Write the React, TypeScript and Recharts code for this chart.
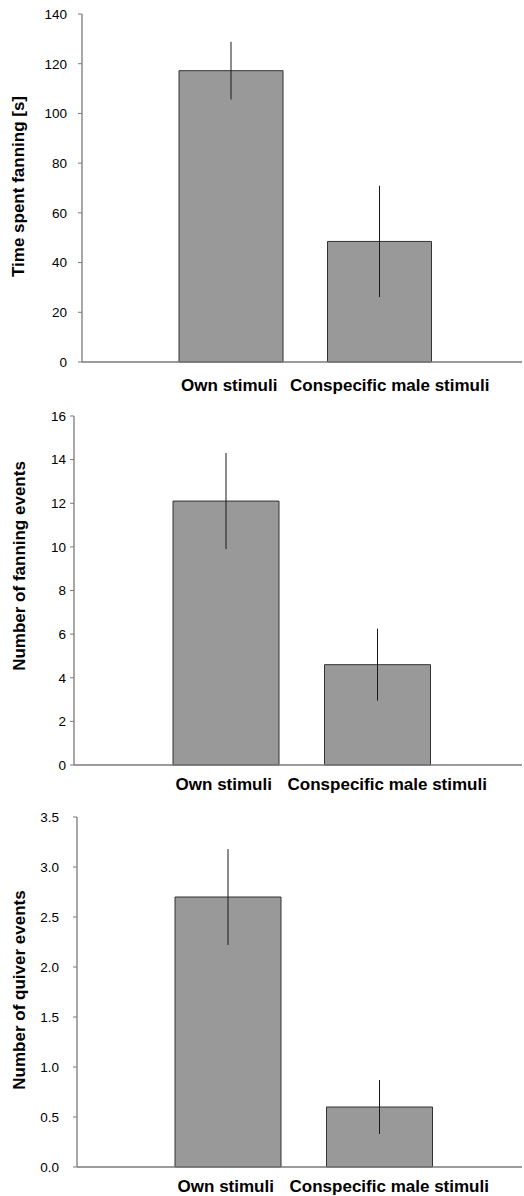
import { BarChart, Bar, XAxis, YAxis, ErrorBar } from "recharts";

const categories = ["Own stimuli", "Conspecific male stimuli"];

// panel 1: time spent fanning
const fanTime = [117.2, 48.5];
const fanTimeSe = [11.6, 22.4];
const fanTimeTicks = [0, 20, 40, 60, 80, 100, 120, 140];

// panel 2: fanning events
const fanEvents = [12.1, 4.6];
const fanEventsSe = [2.2, 1.65];
const fanEventsTicks = [0, 2, 4, 6, 8, 10, 12, 14, 16];

// panel 3: quiver events
const quiverEvents = [2.7, 0.6];
const quiverEventsSe = [0.48, 0.27];
const quiverTicks = [0, 0.5, 1.0, 1.5, 2.0, 2.5, 3.0, 3.5];

const AXIS = "#7a7a7a";
const FONT = "'Liberation Sans', Arial, sans-serif";

type PanelProps = {
  label: string;
  means: number[];
  se: number[];
  ticks: number[];
  decimals: number;
  top: number;
  height: number;
  left: number;
  plotTop: number;
  plotBottom: number;
  padL: number;
  padR: number;
  barSize: number;
  tickGap: number;
  xLabelGap: number;
  labelX: number;
  labelShift: number;
};

function CatTick(props: any) {
  const { x, y, payload, index } = props;
  return (
    <text
      x={x + (index === 1 ? 10 : -2)}
      y={y}
      dy="0.71em"
      textAnchor="middle"
      fontSize={17}
      fontWeight="bold"
      fill="#000"
    >
      {payload.value}
    </text>
  );
}

function Panel(p: PanelProps) {
  const data = categories.map((name, i) => ({ name, mean: p.means[i], se: p.se[i] }));
  return (
    <div style={{ position: "absolute", left: 0, top: p.top }}>
      <BarChart
        width={524}
        height={p.height}
        data={data}
        margin={{ top: p.plotTop, right: 2, bottom: 0, left: 0 }}
      >
        <XAxis
          dataKey="name"
          type="category"
          height={p.height - p.plotBottom}
          padding={{ left: p.padL, right: p.padR }}
          axisLine={{ stroke: AXIS, strokeWidth: 1.3 }}
          tickLine={false}
          tickSize={0}
          tickMargin={p.xLabelGap}
          interval={0}
          tick={<CatTick />}
        />
        <YAxis
          type="number"
          width={p.left}
          domain={[0, p.ticks[p.ticks.length - 1]]}
          ticks={p.ticks}
          interval={0}
          tickSize={4}
          tickMargin={p.tickGap}
          axisLine={{ stroke: AXIS, strokeWidth: 1.3 }}
          tickLine={{ stroke: AXIS }}
          tick={{ fill: "#000", fontSize: 13.5 }}
          tickFormatter={(v: number) => v.toFixed(p.decimals)}
          label={{
            content: ({ viewBox }: any) => {
              const cy = viewBox.y + viewBox.height / 2 + p.labelShift;
              return (
                <text
                  x={p.labelX}
                  y={cy}
                  transform={`rotate(-90, ${p.labelX}, ${cy})`}
                  textAnchor="middle"
                  fontSize={17}
                  fontWeight="bold"
                  fill="#000"
                >
                  {p.label}
                </text>
              );
            },
          }}
        />
        <Bar
          dataKey="mean"
          barSize={p.barSize}
          fill="#999999"
          stroke="#333"
          strokeWidth={1}
          isAnimationActive={false}
        >
          <ErrorBar
            dataKey="se"
            direction="y"
            width={0}
            stroke="#1a1a1a"
            strokeWidth={1}
            isAnimationActive={false}
          />
        </Bar>
      </BarChart>
    </div>
  );
}

export default function App() {
  return (
    <div
      style={{
        position: "absolute",
        left: 0,
        top: 0,
        width: 524,
        height: 1196,
        background: "#fff",
        fontFamily: FONT,
      }}
    >
      <Panel
        label="Time spent fanning [s]"
        means={fanTime}
        se={fanTimeSe}
        ticks={fanTimeTicks}
        decimals={0}
        top={0}
        height={400}
        left={82}
        plotTop={14}
        plotBottom={362}
        padL={75}
        padR={68}
        barSize={104}
        tickGap={11}
        xLabelGap={17}
        labelX={24}
        labelShift={-1.5}
      />
      <Panel
        label="Number of fanning events"
        means={fanEvents}
        se={fanEventsSe}
        ticks={fanEventsTicks}
        decimals={0}
        top={400}
        height={400}
        left={74}
        plotTop={16}
        plotBottom={365}
        padL={76}
        padR={69}
        barSize={106}
        tickGap={4}
        xLabelGap={13}
        labelX={25}
        labelShift={-24.5}
      />
      <Panel
        label="Number of quiver events"
        means={quiverEvents}
        se={quiverEventsSe}
        ticks={quiverTicks}
        decimals={1}
        top={800}
        height={396}
        left={77}
        plotTop={17}
        plotBottom={367}
        padL={75}
        padR={67}
        barSize={106}
        tickGap={14}
        xLabelGap={13}
        labelX={25}
        labelShift={-2}
      />
    </div>
  );
}
